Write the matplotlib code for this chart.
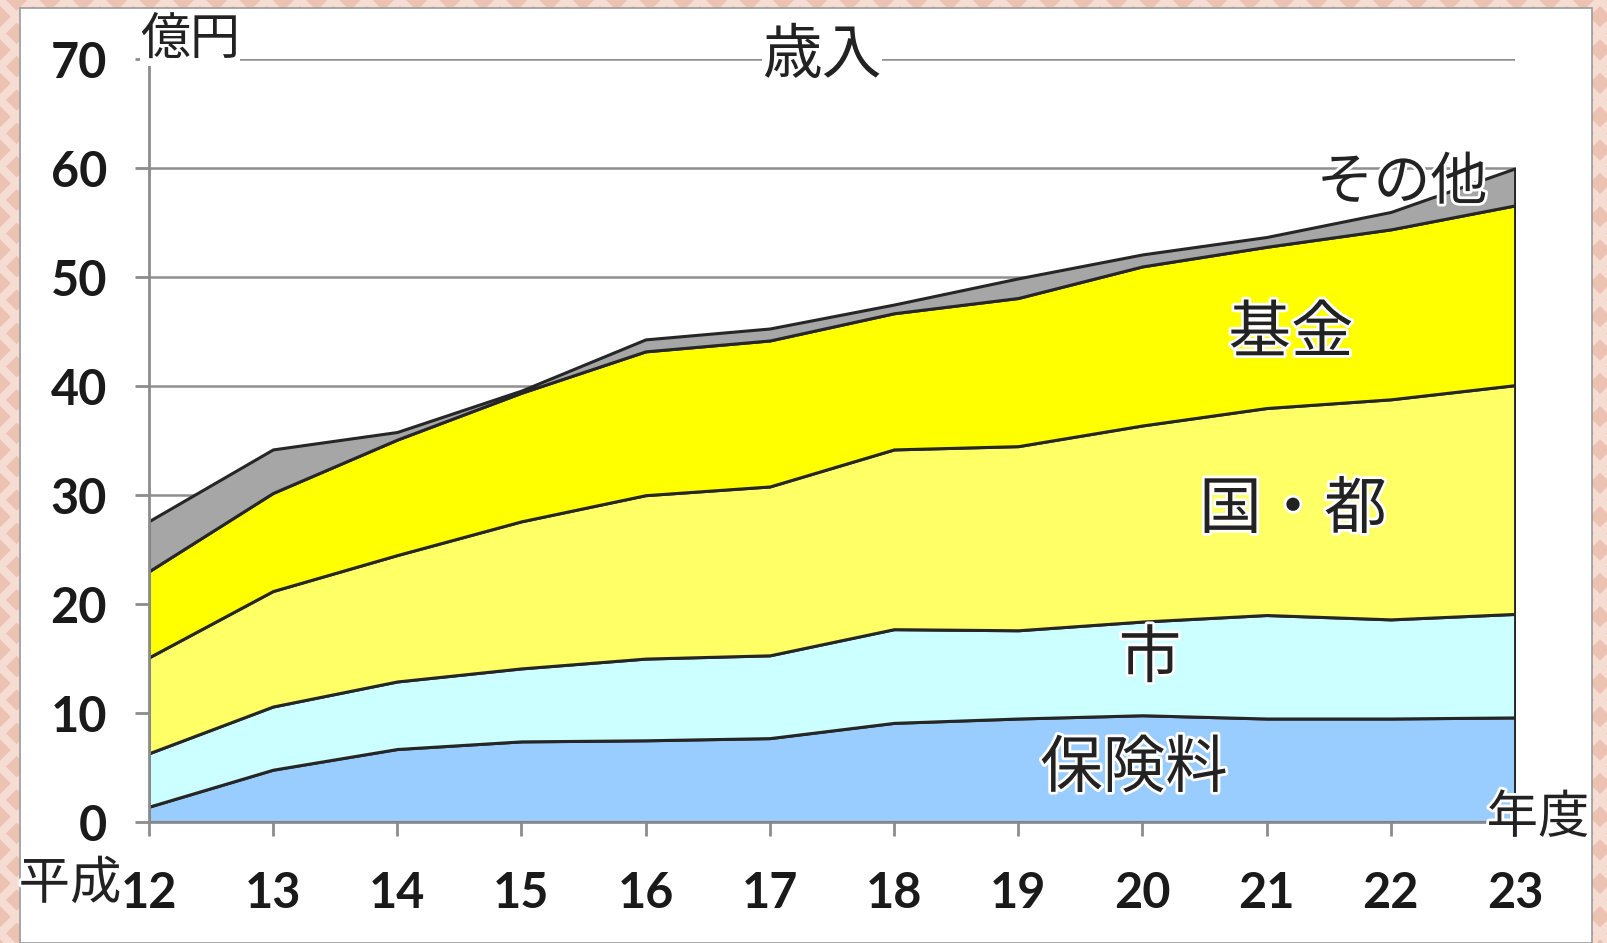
import matplotlib
matplotlib.use("Agg")
import matplotlib.pyplot as plt
import matplotlib.patheffects as pe
from matplotlib.patches import Rectangle

# 年度 (平成)
years = [12, 13, 14, 15, 16, 17, 18, 19, 20, 21, 22, 23]

# 億円, stacked from the bottom
hokenryo = [1.4, 4.8, 6.7, 7.4, 7.5, 7.7, 9.1, 9.5, 9.8, 9.5, 9.5, 9.6]
shi = [4.9, 5.8, 6.2, 6.7, 7.5, 7.6, 8.6, 8.1, 8.6, 9.5, 9.1, 9.5]
kuni_to = [8.8, 10.6, 11.6, 13.5, 15.0, 15.5, 16.5, 16.9, 18.0, 19.0, 20.2, 21.0]
kikin = [7.9, 9.0, 10.6, 11.8, 13.2, 13.4, 12.5, 13.6, 14.6, 14.8, 15.6, 16.5]
sonota = [4.6, 4.0, 0.7, 0.2, 1.1, 1.1, 0.8, 1.8, 1.1, 0.9, 1.6, 3.4]

layer_colors = ["#99ccff", "#ccffff", "#ffff66", "#ffff00", "#a6a6a6"]
yticks = [0, 10, 20, 30, 40, 50, 60, 70]

W, H = 1607, 943
fig = plt.figure(figsize=(W / 100, H / 100), dpi=100)
fig.patch.set_facecolor("#ecc2b2")

# patterned pink border + white panel
plt.rcParams["hatch.linewidth"] = 6
fig.patches.append(Rectangle((0, 0), 1, 1, transform=fig.transFigure,
                             facecolor="#ecc2b2", edgecolor="#f6ddd3",
                             hatch="x", lw=0, zorder=0))
fig.patches.append(Rectangle((20 / W, 0), 1572 / W, 935 / H, transform=fig.transFigure,
                             facecolor="white", edgecolor="#9a9a9a", lw=1.2, zorder=1))

ax = fig.add_axes([0.0925, 0.1283, 0.9428 - 0.0925, 0.937 - 0.1283])
ax.set_zorder(2)
ax.set_facecolor("none")

ax.stackplot(years, hokenryo, shi, kuni_to, kikin, sonota,
             colors=layer_colors, edgecolor="#262626", linewidth=2.2, zorder=2)

ax.set_xlim(12, 23)
ax.set_ylim(0, 70)
ax.set_xticks(years)
ax.set_yticks(yticks)
ax.yaxis.grid(True, color="#8f8f8f", lw=1.8, zorder=0)
ax.set_axisbelow(True)

for s in ["top", "right"]:
    ax.spines[s].set_visible(False)
for s in ["left", "bottom"]:
    ax.spines[s].set_color("#8c8c8c")
    ax.spines[s].set_linewidth(2)
    ax.spines[s].set_zorder(3)

ax.tick_params(axis="both", direction="out", length=10, width=2, color="#8c8c8c",
               labelsize=35, labelcolor="#1a1a1a")
ax.tick_params(axis="y", pad=20)
ax.tick_params(axis="x", pad=25)
for lbl in ax.get_xticklabels() + ax.get_yticklabels():
    lbl.set_fontfamily(["Lato", "DejaVu Sans"])
    lbl.set_fontweight("bold")

jp = ["Noto Sans CJK JP", "DejaVu Sans"]
halo = [pe.withStroke(linewidth=4, foreground="white")]


def fig_text(x, y, s, size, bbox=None, effects=halo):
    fig.text(x / W, 1 - y / H, s, ha="center", va="center", fontsize=size,
             family=jp, color="#222222", path_effects=effects, bbox=bbox, zorder=5)


white_box = dict(facecolor="white", edgecolor="none", pad=0)
fig_text(822, 56, "歳入", 43, bbox=white_box, effects=None)
fig_text(190, 40, "億円", 36, bbox=white_box, effects=None)
fig_text(1402, 183, "その他", 41)
fig_text(1291, 334, "基金", 45)
fig_text(1293, 510, "国・都", 45)
fig_text(1150, 659, "市", 45)
fig_text(1134, 769, "保険料", 45)
fig_text(1538, 818, "年度", 37)
fig_text(70, 884, "平成", 37)

fig.savefig("out.png", dpi=100, facecolor=fig.get_facecolor())
